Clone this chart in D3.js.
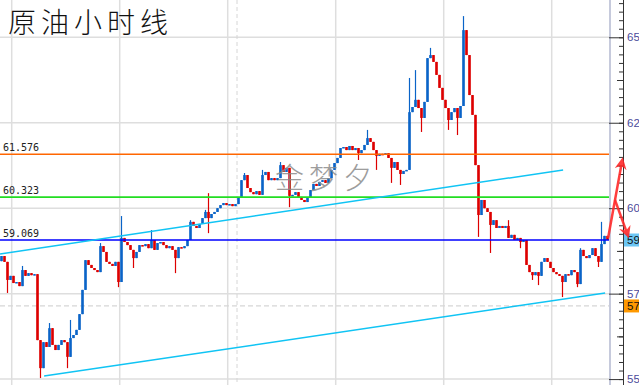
<!DOCTYPE html>
<html>
<head>
<meta charset="utf-8">
<script src="https://cdn.jsdelivr.net/npm/d3@7"></script>
<style>
  html, body { margin: 0; padding: 0; background: #fff; overflow: hidden; }
</style>
</head>
<body>
<div id="chart"></div>
<script>
// Data (hourly crude oil)
const firstOpen = 58.45;
const closes = [
  58.60, 58.43, 57.90, 58.02, 57.81, 57.84, 57.72, 58.19, 58.02, 58.10,
  58.04, 58.07, 56.14, 55.32, 56.08, 55.94, 56.49, 56.00, 55.85, 56.00,
  56.14, 56.08, 55.65, 56.20, 56.29, 56.44, 56.90, 57.61, 58.48, 58.34,
  58.25, 58.19, 58.13, 58.89, 58.72, 58.43, 58.37, 58.31, 58.43, 57.84,
  59.13, 59.01, 58.92, 58.78, 58.54, 58.72, 58.92, 58.89, 58.95, 58.83,
  59.07, 58.78, 58.98, 59.01, 58.92, 58.83, 58.89, 58.78, 58.54, 58.86,
  58.83, 58.89, 59.07, 59.60, 59.48, 59.42, 59.54, 59.71, 59.89, 59.71,
  59.83, 59.89, 60.00, 60.09, 60.15, 60.09, 60.12, 60.06, 60.12, 60.30,
  60.82, 60.97, 60.59, 60.47, 60.41, 60.50, 60.39, 60.97, 61.06, 60.82,
  60.88, 60.82, 60.88, 61.26, 61.06, 61.18, 60.36, 60.39, 60.47, 60.33,
  60.24, 60.18, 60.30, 60.53, 60.71, 60.65, 60.77, 60.82, 60.74, 60.88,
  61.12, 61.32, 61.47, 61.76, 61.79, 61.70, 61.82, 61.70, 61.76, 61.61,
  61.70, 61.85, 62.05, 61.94, 61.70, 61.53, 61.59, 61.56, 61.61, 61.47,
  61.18, 61.35, 61.12, 61.00, 61.09, 61.12, 62.81, 62.96, 63.17, 62.93,
  62.64, 63.11, 64.39, 64.48, 64.28, 63.90, 63.52, 63.17, 62.93, 62.58,
  62.81, 62.93, 62.64, 62.99, 65.21, 64.48, 63.31, 62.73, 61.26, 59.80,
  60.24, 60.00, 59.89, 59.51, 59.65, 59.42, 59.48, 59.42, 59.48, 59.13,
  59.22, 59.07, 59.13, 59.01, 59.07, 58.34, 58.13, 58.04, 58.13, 58.02,
  58.43, 58.54, 58.43, 58.25, 58.13, 58.07, 58.02, 57.84, 58.07, 58.04,
  58.19, 58.13, 57.78, 58.78, 58.60, 58.54, 58.63, 58.83, 58.60, 58.43,
  58.95, 59.19, 59.07
];
// [bar index, high, low] for bars with visible wicks
const spikes = [
  [2, null, 57.52], [7, 58.31, null], [13, null, 55.03], [16, 56.64, null],
  [22, null, 55.32], [23, 56.73, null], [33, 58.98, null], [39, null, 57.69],
  [40, 59.77, null], [44, null, 58.25], [50, 59.36, null], [58, null, 58.10],
  [63, 59.65, null], [68, 59.95, null], [69, 60.44, 59.27], [81, 61.03, null],
  [87, 61.12, null], [93, 61.35, null], [96, null, 60.03], [119, null, 61.41],
  [122, 62.29, null], [125, null, 61.12], [130, null, 60.74], [133, null, 60.68],
  [136, 63.81, null], [138, 64.04, null], [140, null, 62.23], [143, 64.69, null],
  [149, null, 62.29], [152, null, 62.14], [154, 65.62, null], [159, null, 59.16],
  [163, null, 58.69], [169, 59.65, null], [173, null, 58.83], [177, null, 57.90],
  [179, null, 57.75], [187, null, 57.40], [192, null, 57.69], [193, 58.83, null],
  [199, null, 58.28], [200, 59.60, null]
];
const levels = [61.576, 60.323, 59.069];
const levelColors = ["#ff6600", "#22dd22", "#0000ff"];
const gridPrices = [65, 62.5, 60, 57.5, 55];
const gridBars = [3.4, 39.4, 75.4, 111.4, 147.4, 183.4];
const sessionBar = 78.5;
const askPrice = 57.14;
const lastPrice = 59.069;
const channelUpper = [[-0.5, 58.66], [187.2, 61.12]];
const channelLower = [[14.2, 55.09], [201.2, 57.52]];
const arrowUp = [[202.2, 59.13], [204.5, 60.24], [206.8, 61.35]];
const arrowDown = [[204.5, 60.24], [208.6, 59.25]];

// Config
const width = 639, height = 385;
const plotRight = 610;
const axisX = 623;
const upColor = "#0a64c8", downColor = "#dd0000";

const svg = d3.select("#chart").append("svg")
    .attr("width", width)
    .attr("height", height)
    .style("display", "block");

const x = d3.scaleLinear().domain([-0.5, 202.5]).range([0, 609]);
const y = d3.scaleLinear().domain([54.827, 66.091]).range([height, 0]);

// Grid
svg.append("g").selectAll("line")
    .data(gridPrices)
    .join("line")
    .attr("x1", 0).attr("x2", plotRight)
    .attr("y1", d => y(d)).attr("y2", d => y(d))
    .attr("stroke", "#dedede").attr("stroke-width", 1.5);

svg.append("g").selectAll("line")
    .data(gridBars)
    .join("line")
    .attr("x1", d => x(d)).attr("x2", d => x(d))
    .attr("y1", 0).attr("y2", height)
    .attr("stroke", "#dedede").attr("stroke-width", 1.5);

svg.append("line")
    .attr("x1", x(sessionBar)).attr("x2", x(sessionBar))
    .attr("y1", 0).attr("y2", height)
    .attr("stroke", "#d6d6d6").attr("stroke-dasharray", "4 3");

svg.append("line")
    .attr("x1", 0).attr("x2", plotRight)
    .attr("y1", y(askPrice)).attr("y2", y(askPrice))
    .attr("stroke", "#d6d6d6").attr("stroke-width", 1.2)
    .attr("stroke-dasharray", "5 3");

// Title
svg.append("text")
    .attr("x", 8).attr("y", 33)
    .style("font-family", "'Noto Sans CJK SC', sans-serif")
    .style("font-size", "28px")
    .style("font-weight", 300)
    .style("letter-spacing", "5px")
    .attr("fill", "#111")
    .text("原油小时线");

// Candles
const spikeMap = new Map(spikes.map(s => [s[0], s]));
const bars = closes.map((c, i) => {
    const o = i === 0 ? firstOpen : closes[i - 1];
    const s = spikeMap.get(i);
    const h = s && s[1] != null ? Math.max(o, c, s[1]) : Math.max(o, c);
    const l = s && s[2] != null ? Math.min(o, c, s[2]) : Math.min(o, c);
    return { i, o, c, h, l, color: c >= o ? upColor : downColor };
});

const candle = svg.append("g")
    .selectAll("g")
    .data(bars)
    .join("g");

candle.append("line")
    .attr("x1", d => x(d.i))
    .attr("x2", d => x(d.i))
    .attr("y1", d => y(d.h)).attr("y2", d => y(d.l))
    .attr("stroke", d => d.color)
    .attr("stroke-width", 1.2);

candle.append("rect")
    .attr("x", d => x(d.i) - 1.3)
    .attr("width", 2.6)
    .attr("y", d => y(Math.max(d.o, d.c)))
    .attr("height", d => Math.max(1.5, Math.abs(y(d.o) - y(d.c))))
    .attr("fill", d => d.color);

// Level lines + labels
svg.append("g").selectAll("line")
    .data(levels)
    .join("line")
    .attr("x1", 0).attr("x2", plotRight)
    .attr("y1", d => y(d)).attr("y2", d => y(d))
    .attr("stroke", (d, i) => levelColors[i]).attr("stroke-width", 1.6);

svg.append("g").selectAll("text")
    .data(levels)
    .join("text")
    .attr("x", 3).attr("y", d => y(d) - 3)
    .style("font-family", "'DejaVu Sans Mono', monospace")
    .style("font-size", "10px")
    .attr("fill", "#222")
    .text(d => d.toFixed(3));

// Channel lines
const line = d3.line().x(d => x(d[0])).y(d => y(d[1]));
svg.append("g").selectAll("path")
    .data([channelUpper, channelLower])
    .join("path")
    .attr("d", line)
    .attr("fill", "none")
    .attr("stroke", "#10c4f4").attr("stroke-width", 1.5);

// Watermark
svg.append("text")
    .attr("x", 275).attr("y", 189)
    .style("font-family", "'Noto Sans CJK SC', sans-serif")
    .style("font-size", "29px")
    .style("font-weight", 300)
    .style("letter-spacing", "5px")
    .attr("fill", "#8c8c8c").attr("opacity", 0.85)
    .text("金梦夕");

// Right axis
svg.append("line")
    .attr("x1", plotRight).attr("x2", plotRight)
    .attr("y1", 0).attr("y2", height)
    .attr("stroke", "#c6cadc").attr("stroke-width", 2);

const minor = svg.append("g")
    .attr("transform", `translate(${axisX},0)`)
    .call(d3.axisRight(y).tickValues(d3.range(54.75, 66.1, 0.25)).tickSizeInner(-4).tickSizeOuter(0).tickFormat(""));
const mid = svg.append("g")
    .attr("transform", `translate(${axisX},0)`)
    .call(d3.axisRight(y).tickValues([56.25, 58.75, 61.25, 63.75]).tickSizeInner(-6).tickSizeOuter(0).tickFormat(""));
const major = svg.append("g")
    .attr("transform", `translate(${axisX},0)`)
    .call(d3.axisRight(y).tickValues(gridPrices).tickSizeInner(-14).tickSizeOuter(0).tickPadding(4)
        .tickFormat(d => Math.floor(d)));

[minor, mid, major].forEach(g => {
    g.select(".domain").attr("stroke", "#333").attr("d", `M0.5,0V${height}`);
    g.selectAll(".tick line").attr("stroke", "#333");
});
major.selectAll("text")
    .style("font-family", "'Liberation Sans', Arial, sans-serif")
    .style("font-size", "11.5px")
    .attr("fill", "#4b4b9b");

// Price boxes
const boxes = [
    { p: lastPrice, fill: "#6cc6f4" },
    { p: askPrice, fill: "#ff9900" }
];
const box = svg.append("g").selectAll("g")
    .data(boxes)
    .join("g")
    .attr("transform", d => `translate(${axisX + 1},${y(d.p)})`);
box.append("rect")
    .attr("x", 0).attr("y", -6.5)
    .attr("width", width - axisX).attr("height", 13)
    .attr("fill", d => d.fill);
box.append("text")
    .attr("x", 3).attr("dy", "0.35em")
    .style("font-family", "'Liberation Sans', Arial, sans-serif")
    .style("font-size", "11.5px")
    .attr("fill", "#111")
    .text(d => Math.floor(d.p));

// Forecast arrows
const defs = svg.append("defs");
defs.append("marker")
    .attr("id", "head")
    .attr("viewBox", "0 0 10 10")
    .attr("refX", 6).attr("refY", 5)
    .attr("markerUnits", "userSpaceOnUse")
    .attr("markerWidth", 12).attr("markerHeight", 12)
    .attr("orient", "auto")
    .append("path")
    .attr("d", "M0,0L10,5L0,10L3,5Z")
    .attr("fill", "#ff2a2a");

svg.append("g").selectAll("path")
    .data([arrowUp, arrowDown])
    .join("path")
    .attr("d", line)
    .attr("fill", "none")
    .attr("stroke", "#ff2a2a").attr("stroke-width", 2.5)
    .attr("stroke-linejoin", "round")
    .attr("opacity", 0.9)
    .attr("marker-end", "url(#head)");
</script>
</body>
</html>
